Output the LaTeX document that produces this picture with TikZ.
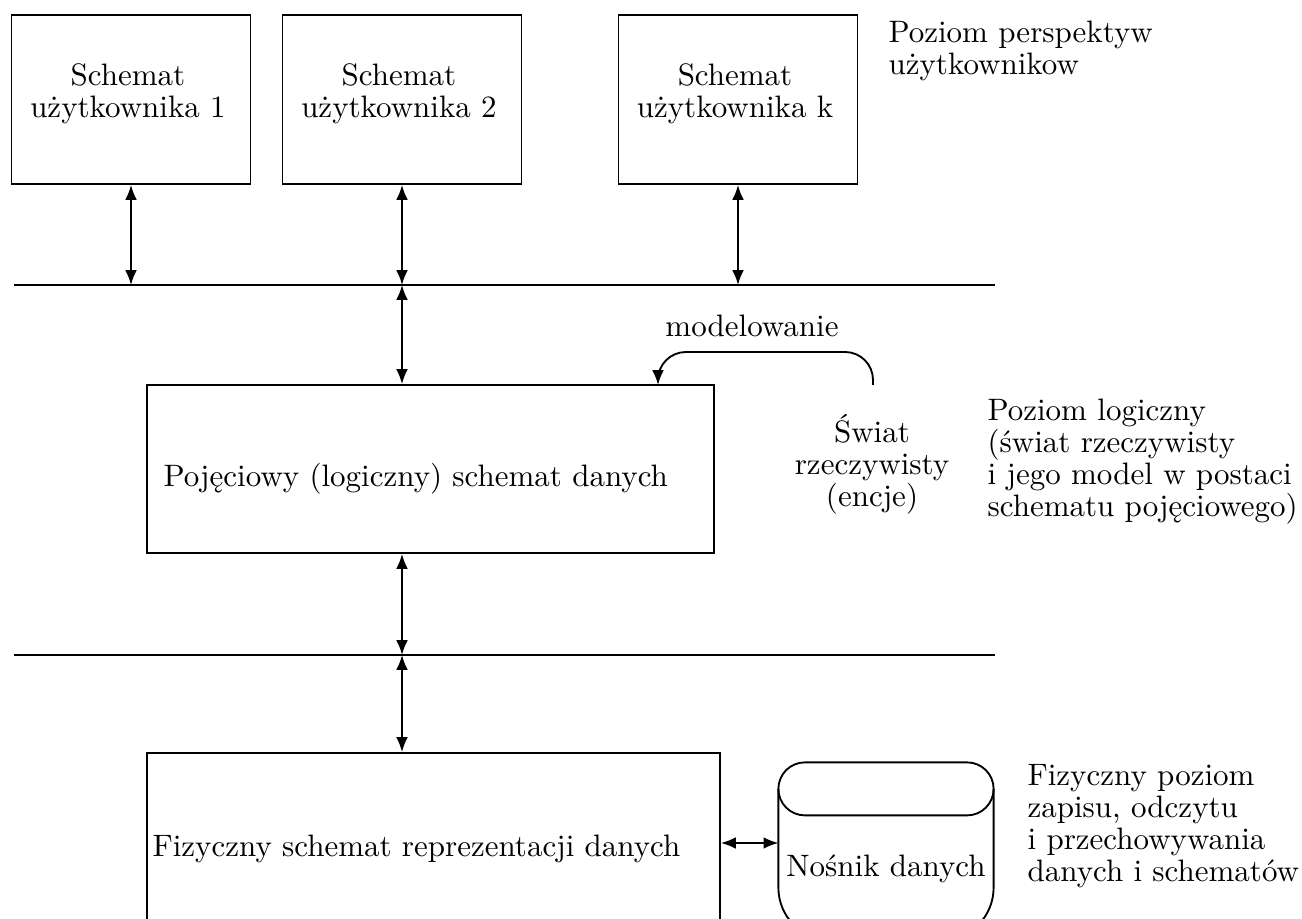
\documentclass[tikz,border=0pt]{standalone}
\usetikzlibrary{arrows.meta}
\begin{document}
\begin{tikzpicture}[x=0.3226pt,y=-0.3226pt,>={Latex[length=4.8pt,width=3.8pt]},
  every node/.style={font=\fontsize{10}{10.4}\selectfont,inner sep=0pt},
  box/.style args={#1/#2}{draw,line width=0.6pt,minimum width=#1*0.3226pt,minimum height=#2*0.3226pt},
  ln/.style={line width=0.6pt},
  dbl/.style={ln,<->}]
\useasboundingbox (0,0) rectangle (1302,919);
\coordinate (l1w) at (14,285);
\coordinate (l1e) at (995,285);
\coordinate (l2w) at (14,655);
\coordinate (l2e) at (995,655);
\draw[ln] (l1w) -- (l1e);
\draw[ln] (l2w) -- (l2e);
\foreach \n/\x in {1/131,2/402,k/738}{
  \node[box=239/169] (u\n) at (\x,99.5) {};
  \node[anchor=base,align=center] (u\n txt) at (\x-3,118) {Schemat\\użytkownika \n};
  \draw[dbl] (u\n.south) -- (u\n.south |- l1w);
}
\node[anchor=base west,align=left] (lvl1) at (888,75) {Poziom perspektyw\\użytkownikow};
\node[box=567/168] (log) at (430.5,469) {};
\node[anchor=base west] (logtxt) at (163,487) {Pojęciowy (logiczny) schemat danych};
\draw[dbl] (u2.south |- l1w) -- (u2.south |- log.north);
\node[anchor=base,align=center] (swiat) at (872,507) {Świat\\rzeczywisty\\(encje)};
\coordinate (ms) at (873,385);
\coordinate (mt) at (658,385);
\draw[ln,->,rounded corners=9pt] (ms) |- (766,352) -| (mt);
\node[anchor=base] (mod) at (752,337) {modelowanie};
\node[anchor=base west,align=left] (lvl2) at (987,517) {Poziom logiczny\\(świat rzeczywisty\\i jego model w postaci\\schematu pojęciowego)};
\draw[dbl] (u2.south |- log.south) -- (u2.south |- l2w);
\node[box=573/200] (phys) at (433.5,853) {};
\node[anchor=base west] (phystxt) at (152,857) {Fizyczny schemat reprezentacji danych};
\draw[dbl] (u2.south |- l2w) -- (u2.south |- phys.north);
\node[minimum width=214*0.3226pt,minimum height=177*0.3226pt] (nos) at (886,851.5) {};
\draw[ln,rounded corners=8.55pt] (nos.north west) rectangle ([yshift=-17.1pt]nos.north east);
\draw[ln,rounded corners=17.1pt] ([yshift=-8.55pt]nos.north west) -- (nos.south west) -- (nos.south east) -- ([yshift=-8.55pt]nos.north east);
\node[anchor=base] (nostxt) at (886,877) {Nośnik danych};
\coordinate (pm) at (750,843);
\draw[dbl] (phys.east |- pm) -- (nos.west |- pm);
\node[anchor=base west,align=left] (lvl3) at (1027,882) {Fizyczny poziom\\zapisu, odczytu\\i przechowywania\\danych i schematów};
\end{tikzpicture}
\end{document}
